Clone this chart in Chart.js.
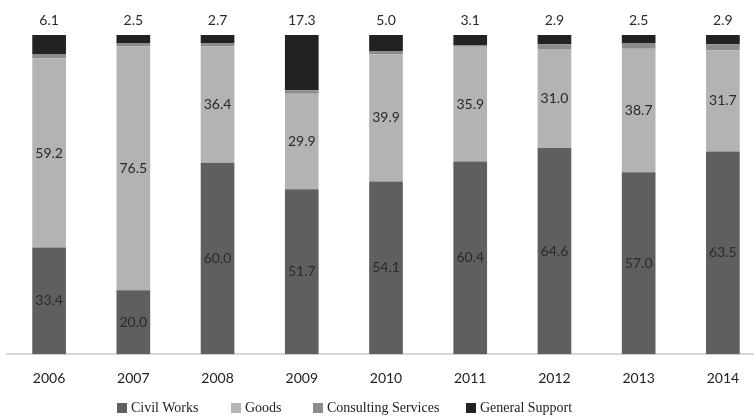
<!DOCTYPE html>
<html>
<head>
<meta charset="utf-8">
<script src="https://cdn.jsdelivr.net/npm/chart.js@4/dist/chart.umd.min.js"></script>
<style>
  html, body { margin: 0; padding: 0; background: #fff; overflow: hidden; }
  #wrap { position: relative; width: 766px; height: 417px; }
  #legend { position: absolute; top: 399px; left: 0; width: 754px; font-family: 'Liberation Serif', serif; font-size: 14px; color: #222; }
  #legend span.item { position: absolute; white-space: nowrap; line-height: 18px; }
  #legend span.box { display: inline-block; width: 10px; height: 10px; margin-right: 4px; vertical-align: -1px; }
</style>
</head>
<body>
<div id="wrap">
  <canvas id="chart" width="766" height="417"></canvas>
  <div id="legend"></div>
</div>
<script>
const years = ['2006', '2007', '2008', '2009', '2010', '2011', '2012', '2013', '2014'];
const civilWorks = [33.4, 20.0, 60.0, 51.7, 54.1, 60.4, 64.6, 57.0, 63.5];
const goods = [59.2, 76.5, 36.4, 29.9, 39.9, 35.9, 31.0, 38.7, 31.7];
const consulting = [1.3, 1.0, 0.9, 1.1, 1.0, 0.6, 1.5, 1.8, 1.9];
const generalSupport = [6.1, 2.5, 2.7, 17.3, 5.0, 3.1, 2.9, 2.5, 2.9];

const seriesColors = ['#5f5f5f', '#b3b3b3', '#8c8c8c', '#222222'];
const legendX = [117, 231, 313, 466];

const valueLabels = {
  id: 'valueLabels',
  afterDatasetsDraw(chart) {
    const ctx = chart.ctx;
    ctx.save();
    ctx.font = '14px Lato, sans-serif';
    ctx.fillStyle = '#2a2a2a';
    ctx.textAlign = 'center';
    ctx.textBaseline = 'middle';
    [0, 1].forEach(di => {
      chart.getDatasetMeta(di).data.forEach((bar, i) => {
        const v = chart.data.datasets[di].data[i];
        ctx.fillText(v.toFixed(1), bar.x, (bar.y + bar.base) / 2);
      });
    });
    chart.getDatasetMeta(3).data.forEach((bar, i) => {
      const v = chart.data.datasets[3].data[i];
      ctx.fillText(v.toFixed(1), bar.x, bar.y - 15);
    });
    ctx.restore();
  }
};

const chart = new Chart(document.getElementById('chart'), {
  type: 'bar',
  data: {
    labels: years,
    datasets: [
      { label: 'Civil Works', data: civilWorks, backgroundColor: seriesColors[0] },
      { label: 'Goods', data: goods, backgroundColor: seriesColors[1] },
      { label: 'Consulting Services', data: consulting, backgroundColor: seriesColors[2] },
      { label: 'General Support', data: generalSupport, backgroundColor: seriesColors[3] }
    ]
  },
  options: {
    responsive: false,
    animation: false,
    layout: { padding: { left: 7, right: 1, top: 35, bottom: 14 } },
    datasets: { bar: { categoryPercentage: 1, barPercentage: 0.4, borderWidth: 0 } },
    plugins: { legend: { display: false }, tooltip: { enabled: false } },
    scales: {
      x: {
        stacked: true,
        grid: { display: false, drawTicks: false },
        border: { color: '#d6d6d6', width: 2 },
        ticks: { color: '#222', padding: 16, font: { family: 'Lato', size: 14 } }
      },
      y: { stacked: true, display: false, min: 0, max: 100 }
    }
  },
  plugins: [valueLabels]
});

const legend = document.getElementById('legend');
chart.data.datasets.forEach((ds, i) => {
  const item = document.createElement('span');
  item.className = 'item';
  item.style.left = legendX[i] + 'px';
  item.innerHTML = '<span class="box" style="background:' + ds.backgroundColor + '"></span>' + ds.label;
  legend.appendChild(item);
});
</script>
</body>
</html>
